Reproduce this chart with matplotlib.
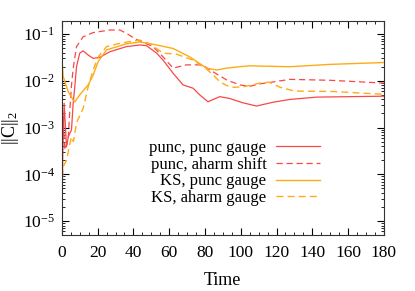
import matplotlib
matplotlib.use("Agg")
import matplotlib.pyplot as plt
import matplotlib.ticker as mticker
import numpy as np

# values (time, log10 of constraint norm)
t_pp = [0, 0.5, 1.3, 2.6, 3.6, 4.5, 5.4, 6.3, 7.3, 8.2, 10.0, 11.9, 14.7, 17.5, 21.2, 26.8,
        36.1, 43.6, 47.3, 53.0, 56.6, 62.2, 67.8, 73.4, 77.0, 81.7, 84.6, 88.3, 93.9,
        101.0, 108.8, 118.0, 127.4, 142.3, 180.0]
c_pp = [-5.2, -3.6, -2.48, -3.41, -3.2, -3.12, -3.05, -2.5, -2.1, -1.70, -1.41, -1.36,
        -1.45, -1.52, -1.50, -1.38, -1.27, -1.235, -1.25, -1.41, -1.56, -1.84, -2.09,
        -2.16, -2.30, -2.45, -2.40, -2.34, -2.38, -2.47, -2.54, -2.46, -2.40, -2.35, -2.33]

t_pa = [0, 0.7, 1.7, 3.5, 4.5, 5.4, 6.3, 8.2, 11.9, 17.5, 26.8, 32.4, 36.1, 40.8, 43.6,
        51.0, 56.6, 62.2, 69.7, 77.1, 80.0, 84.6, 92.0, 99.5, 105.0, 110.0, 115.8, 127.4,
        150.0, 175.0, 180.0]
c_pa = [-3.5, -2.77, -3.48, -3.27, -2.6, -2.1, -1.75, -1.27, -1.06, -0.97, -0.915, -0.915,
        -0.985, -1.10, -1.15, -1.27, -1.49, -1.73, -1.66, -1.66, -1.70, -1.81, -1.98, -2.09,
        -2.12, -2.07, -2.04, -1.97, -1.99, -2.04, -2.05]

t_kp = [0, 0.3, 0.7, 3.5, 6.3, 7.3, 10.0, 14.7, 17.5, 20.3, 25.0, 36.1, 43.6, 53.0, 62.2,
        71.5, 80.9, 86.5, 92.0, 99.5, 105.0, 115.0, 127.4, 150.0, 180.0]
c_kp = [-4.2, -1.66, -1.9, -2.23, -2.41, -2.45, -2.30, -2.09, -1.88, -1.59, -1.34, -1.21,
        -1.17, -1.235, -1.31, -1.49, -1.73, -1.77, -1.73, -1.70, -1.68, -1.69, -1.70,
        -1.65, -1.61]

t_ka = [0, 0.7, 2.6, 4.5, 5.4, 6.5, 8.2, 11.9, 14.7, 17.5, 20.3, 25.0, 32.4, 39.9, 43.6,
        49.2, 56.6, 64.0, 73.4, 80.9, 84.6, 88.3, 92.0, 95.8, 101.4, 110.7, 116.0, 122.0,
        130.0, 151.7, 180.0]
c_ka = [-4.3, -3.84, -3.70, -3.35, -3.20, -3.30, -2.90, -2.59, -2.13, -1.77, -1.49, -1.27,
        -1.20, -1.15, -1.13, -1.21, -1.41, -1.43, -1.56, -1.75, -1.88, -2.02, -2.10, -2.14,
        -2.13, -2.05, -2.03, -2.14, -2.22, -2.23, -2.29]

labels = ["punc, punc gauge", "punc, aharm shift", "KS, punc gauge", "KS, aharm gauge"]

plt.rcParams['font.family'] = ['Liberation Serif', 'DejaVu Serif']
plt.rcParams['mathtext.fontset'] = 'custom'
plt.rcParams['mathtext.rm'] = 'Liberation Serif'
plt.rcParams['mathtext.it'] = 'Liberation Serif'

red = '#f84848'
orange = '#ffaa18'

fig = plt.figure(figsize=(4.15, 2.91), dpi=100)
ax = fig.add_axes([0.149, 0.192, 0.776, 0.736])

ax.plot(t_pp, 10**np.array(c_pp), color=red, lw=0.9, label=labels[0])
ax.plot(t_pa, 10**np.array(c_pa), color=red, lw=0.9, ls=(0, (5, 3)), label=labels[1])
ax.plot(t_kp, 10**np.array(c_kp), color=orange, lw=1.0, label=labels[2])
ax.plot(t_ka, 10**np.array(c_ka), color=orange, lw=1.0, ls=(0, (5, 3)), label=labels[3])

ax.set_yscale('log')
ax.set_xlim(0, 180)
ax.set_ylim(5e-6, 0.19)
ax.set_xticks(np.arange(0, 181, 20))
ax.xaxis.set_minor_locator(mticker.MultipleLocator(5))
ax.yaxis.set_major_locator(mticker.LogLocator(base=10, numticks=10))
ax.yaxis.set_minor_locator(mticker.LogLocator(base=10, subs=np.arange(2, 10), numticks=20))
ax.yaxis.set_minor_formatter(mticker.NullFormatter())
ax.yaxis.set_major_formatter(mticker.FuncFormatter(
    lambda v, p: r'10$^{%d}$' % int(round(np.log10(v)))))
ax.tick_params(which='both', direction='in', top=True, right=True, labelsize=12.5)
ax.tick_params(axis='x', pad=7)
ax.tick_params(axis='y', pad=5)
ax.tick_params(which='major', length=5, width=0.8)
ax.tick_params(which='minor', length=2.5, width=0.6)
for s in ax.spines.values():
    s.set_linewidth(0.8)
    s.set_color('#333333')

ax.set_xlabel("Time", fontsize=13, labelpad=8)
ax.set_ylabel(r"||C||$_2$", fontsize=13, labelpad=1)

ax.legend(loc='lower right', bbox_to_anchor=(0.801, 0.135), frameon=False, markerfirst=False,
          fontsize=12, handlelength=2.6, handletextpad=0.6, labelspacing=0.05,
          borderpad=0, borderaxespad=0)

fig.savefig("out.png", dpi=100)
